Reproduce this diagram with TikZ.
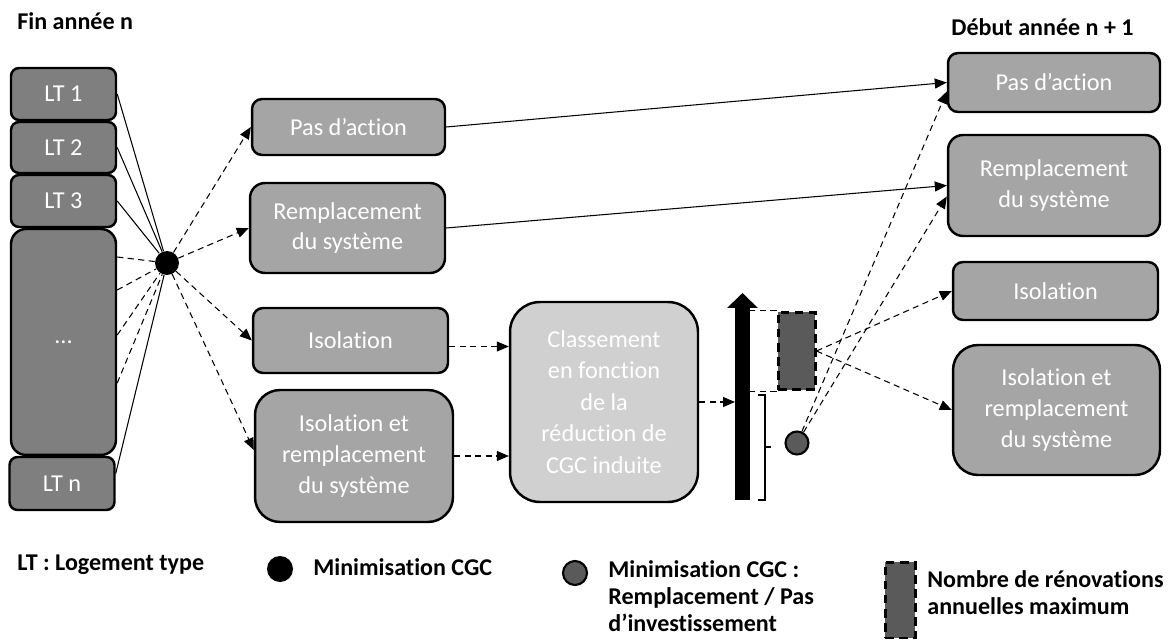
\documentclass[tikz,border=0pt]{standalone}
\usepackage{fontspec}
\setmainfont[Ligatures=NoCommon]{Carlito}
\usetikzlibrary{arrows.meta,calc}
\definecolor{ltfill}{HTML}{7F7F7F}
\definecolor{boxfill}{HTML}{A5A5A5}
\definecolor{rankfill}{HTML}{D0D0D0}
\definecolor{darkfill}{HTML}{5A5A5A}
\begin{document}
\begin{tikzpicture}[x=0.02cm,y=-0.02cm,>={Triangle[length=0.24cm,width=0.2cm]}]
        \tikzstyle{every node}=[font=\fontsize{13.8}{17.5}\selectfont]
        \tikzstyle{title}=[anchor=west,inner sep=0pt,font=\fontsize{13.7}{15.5}\selectfont\bfseries]
        \tikzstyle{lt}=[rectangle,rounded corners=0.16cm,draw=black,line width=1.4pt,fill=ltfill,text=white,minimum width=2.1cm,align=center]
        \tikzstyle{choice}=[rectangle,rounded corners=0.2cm,draw=black,line width=1.4pt,fill=boxfill,text=white,align=center]
        \tikzstyle{rank}=[choice,rounded corners=0.6cm,fill=rankfill,font=\fontsize{13.8}{18}\selectfont]
        \tikzstyle{maxbox}=[rectangle,draw=black,line width=1.7pt,dash pattern=on 5pt off 3pt,fill=darkfill]
        \tikzstyle{link}=[line width=0.6pt]
        \tikzstyle{dlink}=[link,dash pattern=on 3.5pt off 2.5pt]
        \useasboundingbox (0,0) rectangle (1168,641);

        \node [title] (fin) at (17,21) {Fin année n};
        \node [title] (debut) at (951,27) {Début année n + 1};

        % logements types
        \node [lt,minimum height=1.04cm] (lt1) at (63.5,94) {LT 1};
        \node [lt,minimum height=1.02cm] (lt2) at (63.5,147.5) {LT 2};
        \node [lt,minimum height=1.04cm] (lt3) at (63.5,201) {LT 3};
        \node [lt,minimum height=4.52cm,rounded corners=0.3cm] (ltx) at (63.5,342) {...};
        \node [lt,minimum height=1.06cm] (ltn) at (62,483.5) {LT n};

        \node [circle,fill=black,inner sep=0pt,minimum size=0.48cm] (dot) at (167,263) {};

        % choix de fin d'annee
        \node [choice,minimum width=3.86cm,minimum height=1.12cm] (pas1) at (348.5,127) {Pas d’action};
        \node [choice,rounded corners=0.3cm,minimum width=3.9cm,minimum height=1.8cm] (rempl1) at (347.5,228) {Remplacement\\du système};
        \node [choice,minimum width=3.9cm,minimum height=1.3cm] (isol1) at (350.5,340.5) {Isolation};
        \node [choice,rounded corners=0.5cm,minimum width=3.96cm,minimum height=2.64cm] (isrp1) at (354,456) {Isolation et\\remplacement\\du système};

        \node [rank,minimum width=3.76cm,minimum height=4cm] (classe) at (604,402) {Classement\\en fonction\\de la\\réduction de\\CGC induite};

        % etat en debut d'annee
        \node [choice,minimum width=4.24cm,minimum height=1.18cm] (pas2) at (1054,82.5) {Pas d’action};
        \node [choice,rounded corners=0.3cm,minimum width=4.24cm,minimum height=2.02cm] (rempl2) at (1054,185.5) {Remplacement\\du système};
        \node [choice,minimum width=4.1cm,minimum height=1.16cm] (isol2) at (1055.5,291) {Isolation};
        \node [choice,rounded corners=0.5cm,minimum width=4.14cm,minimum height=2.6cm] (isrp2) at (1056.5,410) {Isolation et\\remplacement\\du système};

        \node [maxbox,minimum width=0.74cm,minimum height=1.56cm,inner sep=0pt] (maxren) at (796.5,351) {};
        \node [circle,draw=black,line width=1.2pt,fill=darkfill,inner sep=0pt,minimum size=0.46cm] (gdot) at (797,443) {};

        \coordinate (bar-b) at (742.5,500);
        \coordinate (bar-t) at (742.5,293);
        \coordinate (bar-in) at (735,402);

        \path[link] (lt1.east) edge (dot);
        \path[link] (lt2.east) edge (dot);
        \path[link] (lt3.east) edge (dot);
        \path[link] ($(ltn.east)+(0,-10)$) edge (dot);
        \foreach \dy in {-85,-52,-7,41}
          \path[dlink] ($(ltx.east)+(0,\dy)$) edge (dot);

        \path[dlink,->] (dot) edge (pas1.west);
        \path[dlink,->] (dot) edge (rempl1.west);
        \path[dlink,->] (dot) edge (isol1.west);
        \path[dlink,->] (dot) edge ($(isrp1.west)+(0,-6)$);

        \path[dlink,->] ([yshift=-0.12cm]isol1.east) edge ([yshift=-0.12cm]isol1.east -| classe.west);
        \path[dlink,->] (isrp1.east) edge (isrp1.east -| classe.west);
        \path[dlink,->] (classe.east) edge (bar-in);

        \draw[line width=0.3cm,-{Triangle[width=0.6cm,length=0.3cm]}] (bar-b) -- (bar-t);
        \draw[dlink] (maxren.north west) -- ++(-28,0);
        \draw[dlink] (maxren.south west) -- ++(-28,0);
        \draw[line width=1.2pt] (758,395) -- (765,395) -- (765,500) -- (758,500);
        \draw[line width=1.2pt] (765,447) -- (771,447);

        \path[link,->] (pas1.east) edge (pas2.west);
        \path[link,->] (rempl1.east) edge (rempl2.west);
        \path[dlink,->] (gdot) edge ($(pas2.west)+(0,9)$);
        \path[dlink,->] (gdot) edge ($(rempl2.west)+(0,11)$);
        \path[dlink,->] (maxren.east) edge (isol2.west);
        \path[dlink,->] (maxren.east) edge (isrp2.west);

        % legende
        \node [title] (leglt) at (17,565) {LT : Logement type};
        \node [circle,fill=black,inner sep=0pt,minimum size=0.52cm] (legdot) at (280,569) {};
        \node [title] (legdottxt) at (313,567) {Minimisation CGC};
        \node [circle,draw=black,line width=1.2pt,fill=darkfill,inner sep=0pt,minimum size=0.48cm] (leggdot) at (575,573) {};
        \node [title,anchor=north west,align=left] (leggdottxt) at (608,560) {Minimisation CGC :\\Remplacement / Pas\\d’investissement};
        \node [maxbox,minimum width=0.6cm,minimum height=1.52cm,inner sep=0pt] (legmax) at (900,600) {};
        \node [title,align=left] (legmaxtxt) at (927,593) {Nombre de rénovations\\annuelles maximum};
\end{tikzpicture}
\end{document}
